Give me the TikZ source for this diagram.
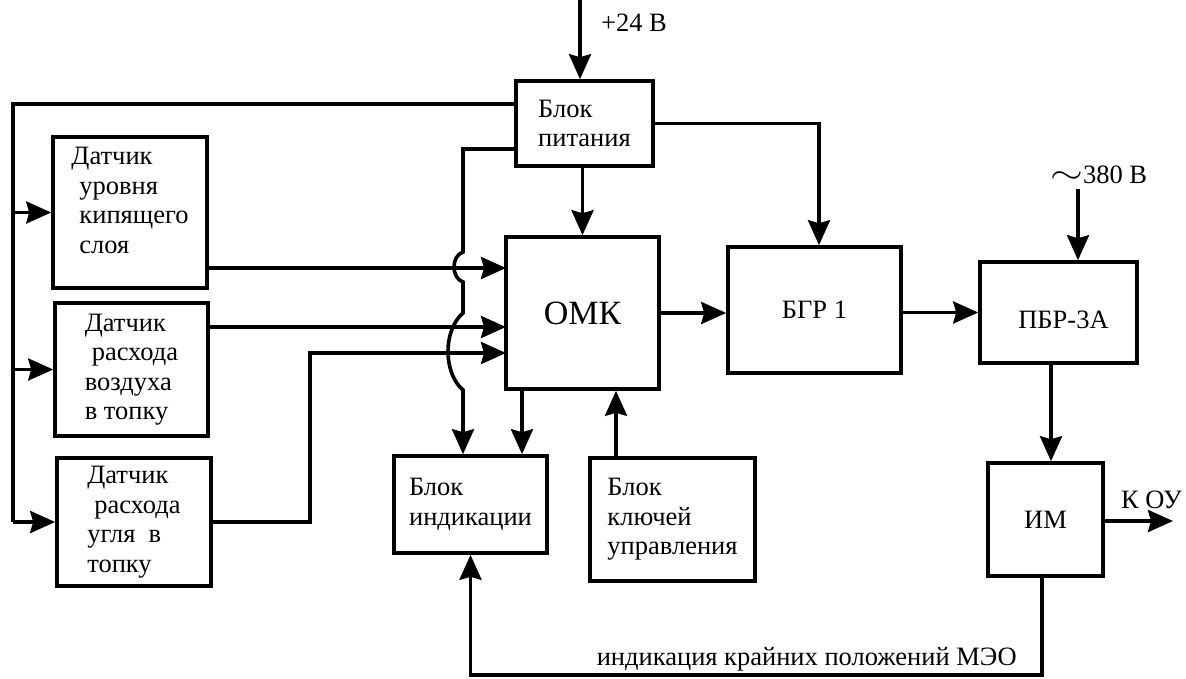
\documentclass[tikz,border=0pt]{standalone}
\usepackage{fontspec}
\setmainfont{Liberation Serif}
\usetikzlibrary{arrows.meta}

\begin{document}
\begin{tikzpicture}[x=1pt,y=-1pt,line width=3.6pt,
    >={Stealth[length=25pt,width=22pt,inset=3pt]},
    every node/.style={font=\fontsize{26.5}{29.5}\selectfont},
    blk/.style={draw,rectangle,align=left,inner sep=0pt}]
  \useasboundingbox (0,0) rectangle (1186,678);
  \node[blk,minimum width=137,minimum height=85] (pit) at (584.5,123.5) {Блок\\питания};
  \node[blk,minimum width=154,minimum height=151,text depth=24pt] (d1) at (130,212.5) {Датчик\\\hspace{8pt}уровня\\\hspace{8pt}кипящего\\\hspace{8pt}слоя};
  \node[blk,minimum width=153,minimum height=133] (d2) at (131.5,369.5) {Датчик\\\hspace{7pt}расхода\\воздуха\\в топку};
  \node[blk,minimum width=154,minimum height=128] (d3) at (134,522) {Датчик\\\hspace{7pt}расхода\\угля\ \ в\\топку};
  \node[blk,minimum width=153,minimum height=152,font=\fontsize{34}{34}\selectfont] (omk) at (582.5,313) {ОМК};
  \node[blk,minimum width=173,minimum height=126] (bgr) at (814.5,310) {БГР 1};
  \node[blk,minimum width=157,minimum height=101,text height=33pt] (pbr) at (1058.5,312.5) {\hspace{10pt}ПБР-3А};
  \node[blk,minimum width=153,minimum height=97] (ind) at (470.5,504.5) {Блок\\индикации};
  \node[blk,minimum width=165,minimum height=123] (keys) at (672.5,519.5) {Блок\\ключей\\управления};
  \node[blk,minimum width=115,minimum height=113] (im) at (1045.5,519.5) {ИМ};

  \node (u24) [anchor=west] at (596,23) {+24 В};
  \node (u380) [anchor=west] at (1045,175) {\scalebox{1.7}[1.3]{$\sim$}380 В};
  \node (kou) [anchor=west] at (1116,500) {К ОУ};
  \node (meo) [anchor=base east] at (1022,665) {индикация крайних положений МЭО};

  \coordinate (v24) at (580,0);
  \coordinate (v380) at (1078,189);
  \coordinate (bus) at (13,104);
  \coordinate (j0) at (463,149);
  \coordinate (in1) at (506,268);
  \coordinate (in2) at (506,327);
  \coordinate (in3) at (506,353);
  \coordinate (c3) at (310,353);
  \coordinate (p2) at (819,0);
  \coordinate (p3) at (1051,0);
  \coordinate (o1) at (522,0);
  \coordinate (k1) at (616,0);
  \coordinate (out) at (1173,521);
  \coordinate (fb) at (1042,675);

  \draw[->] (v24) -- (v24 |- pit.north);
  \draw[->] (v380) -- (v380 |- pbr.north);
  \draw (pit.west |- bus) -- (bus) -- (bus |- d3.west);
  \foreach \n in {d1,d2,d3} \draw[->] (bus |- \n.west) -- (\n.west);
  \draw[->] (pit.west |- j0) -- (j0) -- (463,252) .. controls (451,256) and (451,278) .. (463,282)
    -- (463,313) .. controls (443,330) and (443,373) .. (463,390) -- (ind.north -| j0);
  \draw[->] (pit.south -| omk.north) -- (omk.north);
  \draw[->] (pit.east) -| (bgr.north -| p2);
  \draw[->] (d1.east |- in1) -- (in1);
  \draw[->] (d2.east |- in2) -- (in2);
  \draw[->] (d3.east) -- (d3.east -| c3) -- (c3) -- (in3);
  \draw[->] (omk.east) -- (omk.east -| bgr.west);
  \draw[->] (bgr.east |- pbr.west) -- (pbr.west);
  \draw[->] (pbr.south -| p3) -- (im.north -| p3);
  \draw[->] (omk.south -| o1) -- (ind.north -| o1);
  \draw[->] (keys.north -| k1) -- (omk.south -| k1);
  \draw[->] (im.east |- out) -- (out);
  \draw[->] (im.south -| fb) -- (fb) -| (ind.south);
\end{tikzpicture}
\end{document}
